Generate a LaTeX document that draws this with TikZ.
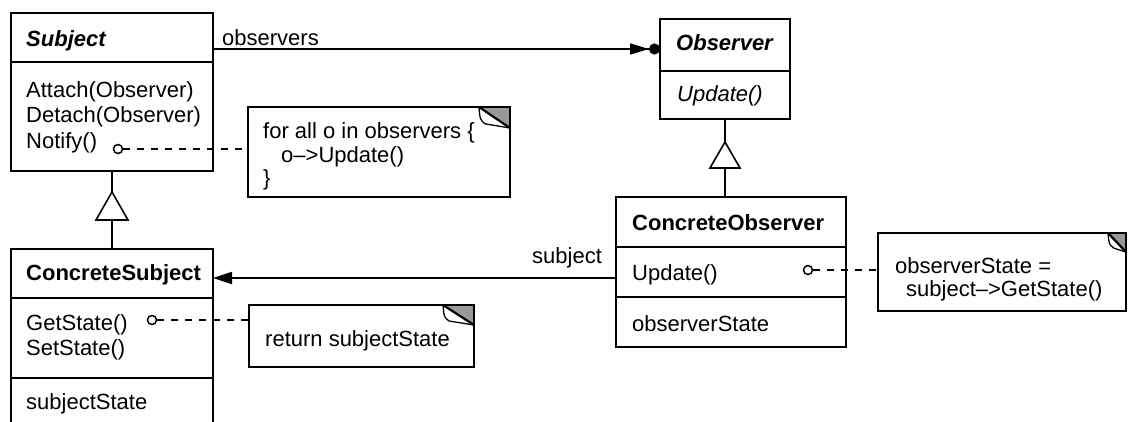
\documentclass[tikz,border=0pt]{standalone}
\usepackage{fontspec}
\setmainfont{Liberation Sans}
\usetikzlibrary{arrows.meta,calc}
\newcommand\dgfs{\fontsize{22}{24}\selectfont}
\newcommand\dogear[3]{%
  \fill[black!40] ($(#1.north east)+(-#2,0)$) -- (#1.north east) -- ($(#1.north east)+(0,#3)$) -- cycle;
  \filldraw[fill=white, line width=1.3pt, line join=round] ($(#1.north east)+(-#2,0)$) .. controls ($(#1.north east)+(-#2+1,#3*0.6)$) .. ($(#1.north east)+(-#2+6,#3*0.8)$) -- ($(#1.north east)+(0,#3)$);
  \draw[line width=2.2pt] ($(#1.north east)+(-#2,0)$) -- ($(#1.north east)+(0,#3)$);
  \draw[line width=1.8pt] (#1.north west) rectangle (#1.south east);
}
\begin{document}
\begin{tikzpicture}[x=1pt,y=-1pt,
  box/.style={draw, line width=1.8pt, inner sep=0pt, outer sep=0pt, anchor=north west},
  note/.style={box, fill=white},
  sep/.style={line width=1.6pt},
  txt/.style={anchor=base west, inner sep=0pt, font=\dgfs},
  txtb/.style={anchor=base west, inner sep=0pt, font=\dgfs\bfseries},
  txtbi/.style={anchor=base west, inner sep=0pt, font=\dgfs\bfseries\itshape},
  txti/.style={anchor=base west, inner sep=0pt, font=\dgfs\itshape},
  pin/.style={circle, draw, line width=1.5pt, minimum size=9pt, inner sep=0pt},
  dashln/.style={line width=1.5pt, dash pattern=on 7pt off 7pt},
  assoc/.style={line width=1.8pt},
  gen/.style={draw, line width=1.6pt, fill=white}
]
\useasboundingbox (0,0) rectangle (1128,421);
% Subject
\node[box, minimum width=202pt, minimum height=158pt] (subj) at (11,13) {};
\draw[sep] (subj.west |- 0,62) -- (subj.east |- 0,62);
\node[txtbi] (t-subj) at (26,46) {Subject};
\node[txt] (t-att) at (26,97) {Attach(Observer)};
\node[txt] (t-det) at (26,122) {Detach(Observer)};
\node[txt] (t-not) at (26,148) {Notify()};
% ConcreteSubject
\node[box, minimum width=202pt, minimum height=190pt] (csubj) at (11,249) {};
\draw[sep] (csubj.west |- 0,298) -- (csubj.east |- 0,298);
\draw[sep] (csubj.west |- 0,378) -- (csubj.east |- 0,378);
\node[txtb] (t-cs) at (26,280) {ConcreteSubject};
\node[txt] (t-gs) at (26,330) {GetState()};
\node[txt] (t-ss) at (26,355) {SetState()};
\node[txt] (t-sst) at (26,409) {subjectState};
% Observer
\node[box, minimum width=130pt, minimum height=100pt] (obs) at (660,19) {};
\draw[sep] (obs.west |- 0,71) -- (obs.east |- 0,71);
\node[txtbi] (t-obs) at (676,50) {Observer};
\node[txti] (t-upd) at (677,101) {Update()};
% ConcreteObserver
\node[box, minimum width=230pt, minimum height=150pt] (cobs) at (616,197) {};
\draw[sep] (cobs.west |- 0,247) -- (cobs.east |- 0,247);
\draw[sep] (cobs.west |- 0,297) -- (cobs.east |- 0,297);
\node[txtb] (t-co) at (632,230) {ConcreteObserver};
\node[txt] (t-cupd) at (632,280) {Update()};
\node[txt] (t-ost) at (632,331) {observerState};
% Notes
\node[note, minimum width=262pt, minimum height=90pt] (n1) at (248,107) {};
\dogear{n1}{31}{21}
\node[txt] (t-n1a) at (263,138) {for all o in observers \{};
\node[txt] (t-n1b) at (281,162) {o–>Update()};
\node[txt] (t-n1c) at (263,185) {\}};
\node[note, minimum width=225pt, minimum height=62pt] (n2) at (249,305) {};
\dogear{n2}{31}{20}
\node[txt] (t-n2) at (265,346) {return subjectState};
\node[note, minimum width=248pt, minimum height=78pt] (n3) at (878,233) {};
\dogear{n3}{18}{19}
\node[txt] (t-n3a) at (895,273) {observerState =};
\node[txt] (t-n3b) at (906,296) {subject–>GetState()};
% Pins and dashed links
\node[pin] (p1) at (118,149) {};
\draw[dashln] (p1.east) -- (n1.west |- p1.east);
\node[pin] (p2) at (152,320) {};
\draw[dashln] (p2.east) -- (n2.west |- p2.east);
\node[pin] (p3) at (808,270) {};
\draw[dashln] (p3.east) -- (n3.west |- p3.east);
% Generalizations
\draw[sep] (subj.south) -- ++(0,21) coordinate (g1);
\draw[gen] (g1) -- ++(16,28) -- ++(-32,0) -- cycle;
\draw[sep] ($(g1)+(0,28)$) -- (csubj.north);
\draw[sep] (obs.south) -- ++(0,23) coordinate (g2);
\draw[gen] (g2) -- ++(15,26) -- ++(-30,0) -- cycle;
\draw[sep] ($(g2)+(0,26)$) -- (g2 |- cobs.north);
% Associations
\coordinate (ya) at (0,49);
\draw[assoc, -{Triangle[length=19pt,width=11pt]Circle[length=11pt]}] (subj.east |- ya) -- (obs.west |- ya);
\node[txt] (t-obsl) at (222,45) {observers};
\coordinate (yb) at (0,278);
\draw[assoc, -{Triangle[length=19pt,width=12pt]}] (cobs.west |- yb) -- (csubj.east |- yb);
\node[txt] (t-subl) at (532,263) {subject};
\end{tikzpicture}
\end{document}
